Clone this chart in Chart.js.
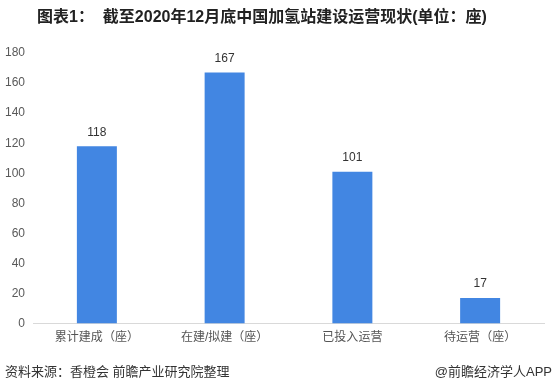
<!DOCTYPE html>
<html>
<head>
<meta charset="utf-8">
<script src="https://cdn.jsdelivr.net/npm/chart.js@4"></script>
<style>
  html, body { margin: 0; padding: 0; background: #fff; }
  #wrap { width: 555px; height: 390px; }
</style>
</head>
<body>
<div id="wrap"><canvas id="hydrogenChart"></canvas></div>
<script>
const categories = ['累计建成（座）', '在建/拟建（座）', '已投入运营', '待运营（座）'];
const stationCounts = [118, 167, 101, 17];
const yTicks = [0, 20, 40, 60, 80, 100, 120, 140, 160, 180];

const fontFamily = '"Liberation Sans", "Noto Sans CJK SC", sans-serif';

// value labels above bars + title + footer
const extras = {
    id: 'extras',
    afterDatasetsDraw(chart) {
        const c = chart.ctx;
        c.save();
        c.fillStyle = '#333';
        c.font = '12px ' + fontFamily;
        c.textAlign = 'center';
        c.textBaseline = 'bottom';
        chart.getDatasetMeta(0).data.forEach((bar, i) => {
            c.fillText(stationCounts[i], bar.x, bar.y - 8);
        });

        c.fillStyle = '#222';
        c.font = 'bold 16px ' + fontFamily;
        c.textBaseline = 'middle';
        c.fillText('图表1：  截至2020年12月底中国加氢站建设运营现状(单位：座)', 262, 18);

        c.font = '13px ' + fontFamily;
        c.textAlign = 'left';
        c.fillStyle = '#333';
        c.fillText('资料来源：香橙会 前瞻产业研究院整理', 5, 372);
        c.textAlign = 'right';
        c.fillText('@前瞻经济学人APP', 552, 372);
        c.restore();
    }
};

new Chart(document.getElementById('hydrogenChart'), {
    type: 'bar',
    data: {
        labels: categories,
        datasets: [{
            data: stationCounts,
            backgroundColor: '#4286e2',
            barPercentage: 0.313,
            categoryPercentage: 1
        }]
    },
    options: {
        responsive: true,
        maintainAspectRatio: false,
        animation: false,
        layout: { padding: { top: 53, left: 0, right: 11, bottom: 38 } },
        plugins: {
            legend: { display: false },
            tooltip: { enabled: false }
        },
        scales: {
            x: {
                grid: { display: false, drawTicks: false },
                border: { color: '#d9d9d9' },
                ticks: { color: '#555', font: { size: 12, family: fontFamily }, padding: 7 }
            },
            y: {
                min: 0,
                max: 180,
                afterBuildTicks(axis) { axis.ticks = yTicks.map(v => ({ value: v })); },
                afterFit(axis) { axis.width = 33; },
                grid: { display: false, drawTicks: false },
                border: { display: false },
                ticks: { color: '#595959', font: { size: 12, family: fontFamily }, padding: 8 }
            }
        }
    },
    plugins: [extras]
});
</script>
</body>
</html>
